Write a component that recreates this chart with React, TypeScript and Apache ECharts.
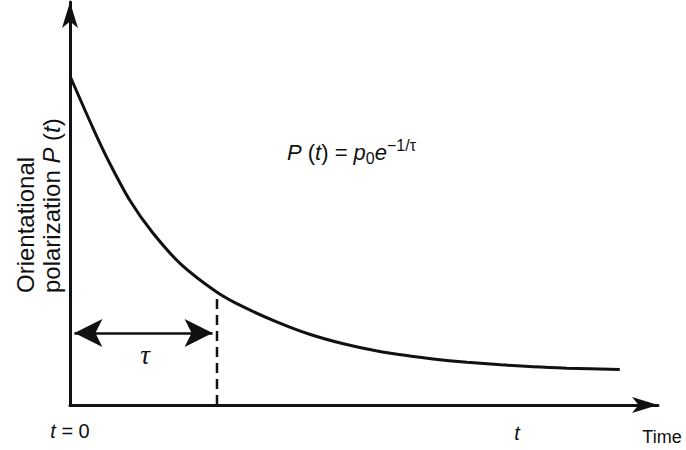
import React, { useEffect, useRef } from "react";
import * as echarts from "echarts";

// Time in units of the relaxation time τ
const timeValues = [
  0, 0.16, 0.27, 0.41, 0.56, 0.75, 1.0, 1.18, 1.41, 1.63, 1.86, 2.09, 2.31, 2.47,
  2.7, 2.93, 3.15, 3.38, 3.74,
];
// Orientational polarization, normalised so that P(0) = p0 = 1
const polarization = [
  1.0, 0.838, 0.735, 0.62, 0.525, 0.43, 0.343, 0.298, 0.252, 0.215, 0.186, 0.164,
  0.149, 0.14, 0.13, 0.122, 0.116, 0.112, 0.108,
];
const tau = 1.0;
// extent of the double-headed τ arrow (arrow tips) and its height
const tauArrowSpan = [0.03, 0.97];
const tauArrowLevel = 0.219;

const X_MAX = 4.0;
const Y_MAX = 1.225;
const INK = "#111";
const SANS = "'Liberation Sans', Arial, sans-serif";
const SERIF = "'Liberation Serif', 'Times New Roman', serif";

export default function App() {
  const ref = useRef<HTMLDivElement>(null);

  useEffect(() => {
    if (!ref.current) return;
    const chart = echarts.init(ref.current, undefined, { renderer: "svg" });

    const curve = timeValues.map((t, i) => [t, polarization[i]]);
    const tauIndex = timeValues.indexOf(tau);
    const tauDrop = [
      [tau, 0],
      [tau, polarization[tauIndex]],
    ];

    const axisCommon = {
      type: "value" as const,
      axisTick: { show: false },
      axisLabel: { show: false },
      splitLine: { show: false },
      axisLine: {
        show: true,
        symbol: ["none", "arrow"],
        symbolSize: [12, 26],
        lineStyle: { color: INK, width: 3 },
      },
    };

    chart.setOption({
      animation: false,
      backgroundColor: "#fff",
      grid: { left: 70, right: 28, top: 2, bottom: 45 },
      xAxis: { ...axisCommon, min: 0, max: X_MAX },
      yAxis: { ...axisCommon, min: 0, max: Y_MAX },
      series: [
        {
          type: "line",
          data: curve,
          smooth: 0.3,
          showSymbol: false,
          silent: true,
          lineStyle: { color: INK, width: 3 },
        },
        {
          type: "line",
          data: tauDrop,
          showSymbol: false,
          silent: true,
          lineStyle: { color: INK, width: 2.5, type: [10, 6] },
        },
        {
          type: "line",
          data: [],
          silent: true,
          markLine: {
            silent: true,
            symbol: ["arrow", "arrow"],
            symbolSize: [21, 28],
            label: { show: false },
            lineStyle: { color: INK, width: 2.5, type: "solid" },
            data: [
              [
                { coord: [tauArrowSpan[0], tauArrowLevel] },
                { coord: [tauArrowSpan[1], tauArrowLevel] },
              ],
            ],
          },
        },
      ],
      graphic: [
        {
          type: "text",
          x: 25,
          y: 293,
          rotation: Math.PI / 2,
          style: {
            text: "Orientational",
            font: `24px ${SANS}`,
            fill: INK,
            align: "left",
            verticalAlign: "middle",
          },
        },
        {
          type: "text",
          x: 51,
          y: 293,
          rotation: Math.PI / 2,
          style: {
            text: "polarization {i|P} ({i|t})",
            font: `24px ${SANS}`,
            fill: INK,
            align: "left",
            verticalAlign: "middle",
            rich: {
              i: { fontStyle: "italic", fontSize: 24, fontFamily: SANS, fill: INK },
            },
          },
        },
        {
          type: "text",
          x: 287,
          y: 152,
          style: {
            text: "{i|P} ({i|t}) = {i|p}{sub|0}{i|e}{sup|−1/τ}",
            font: `22px ${SANS}`,
            fill: INK,
            align: "left",
            verticalAlign: "middle",
            rich: {
              i: { fontStyle: "italic", fontSize: 22, fontFamily: SANS, fill: INK },
              sub: { fontSize: 16, fontFamily: SANS, fill: INK, padding: [12, 0, 0, 0] },
              sup: { fontSize: 16, fontFamily: SANS, fill: INK, padding: [0, 0, 14, 0] },
            },
          },
        },
        {
          type: "text",
          x: 145,
          y: 355,
          style: {
            text: "τ",
            font: `italic 27px ${SERIF}`,
            fill: INK,
            align: "center",
            verticalAlign: "middle",
          },
        },
        {
          type: "text",
          x: 70,
          y: 431,
          style: {
            text: "{i|t} = 0",
            font: `20px ${SANS}`,
            fill: INK,
            align: "center",
            verticalAlign: "middle",
            rich: {
              i: { fontStyle: "italic", fontSize: 20, fontFamily: SANS, fill: INK },
            },
          },
        },
        {
          type: "text",
          x: 517,
          y: 433,
          style: {
            text: "t",
            font: `italic 20px ${SANS}`,
            fill: INK,
            align: "center",
            verticalAlign: "middle",
          },
        },
        {
          type: "text",
          x: 662,
          y: 437,
          style: {
            text: "Time",
            font: `18px ${SANS}`,
            fill: INK,
            align: "center",
            verticalAlign: "middle",
          },
        },
      ],
    });

    return () => chart.dispose();
  }, []);

  return (
    <div
      ref={ref}
      style={{ position: "fixed", left: 0, top: 0, width: 686, height: 450, background: "#fff" }}
    />
  );
}
